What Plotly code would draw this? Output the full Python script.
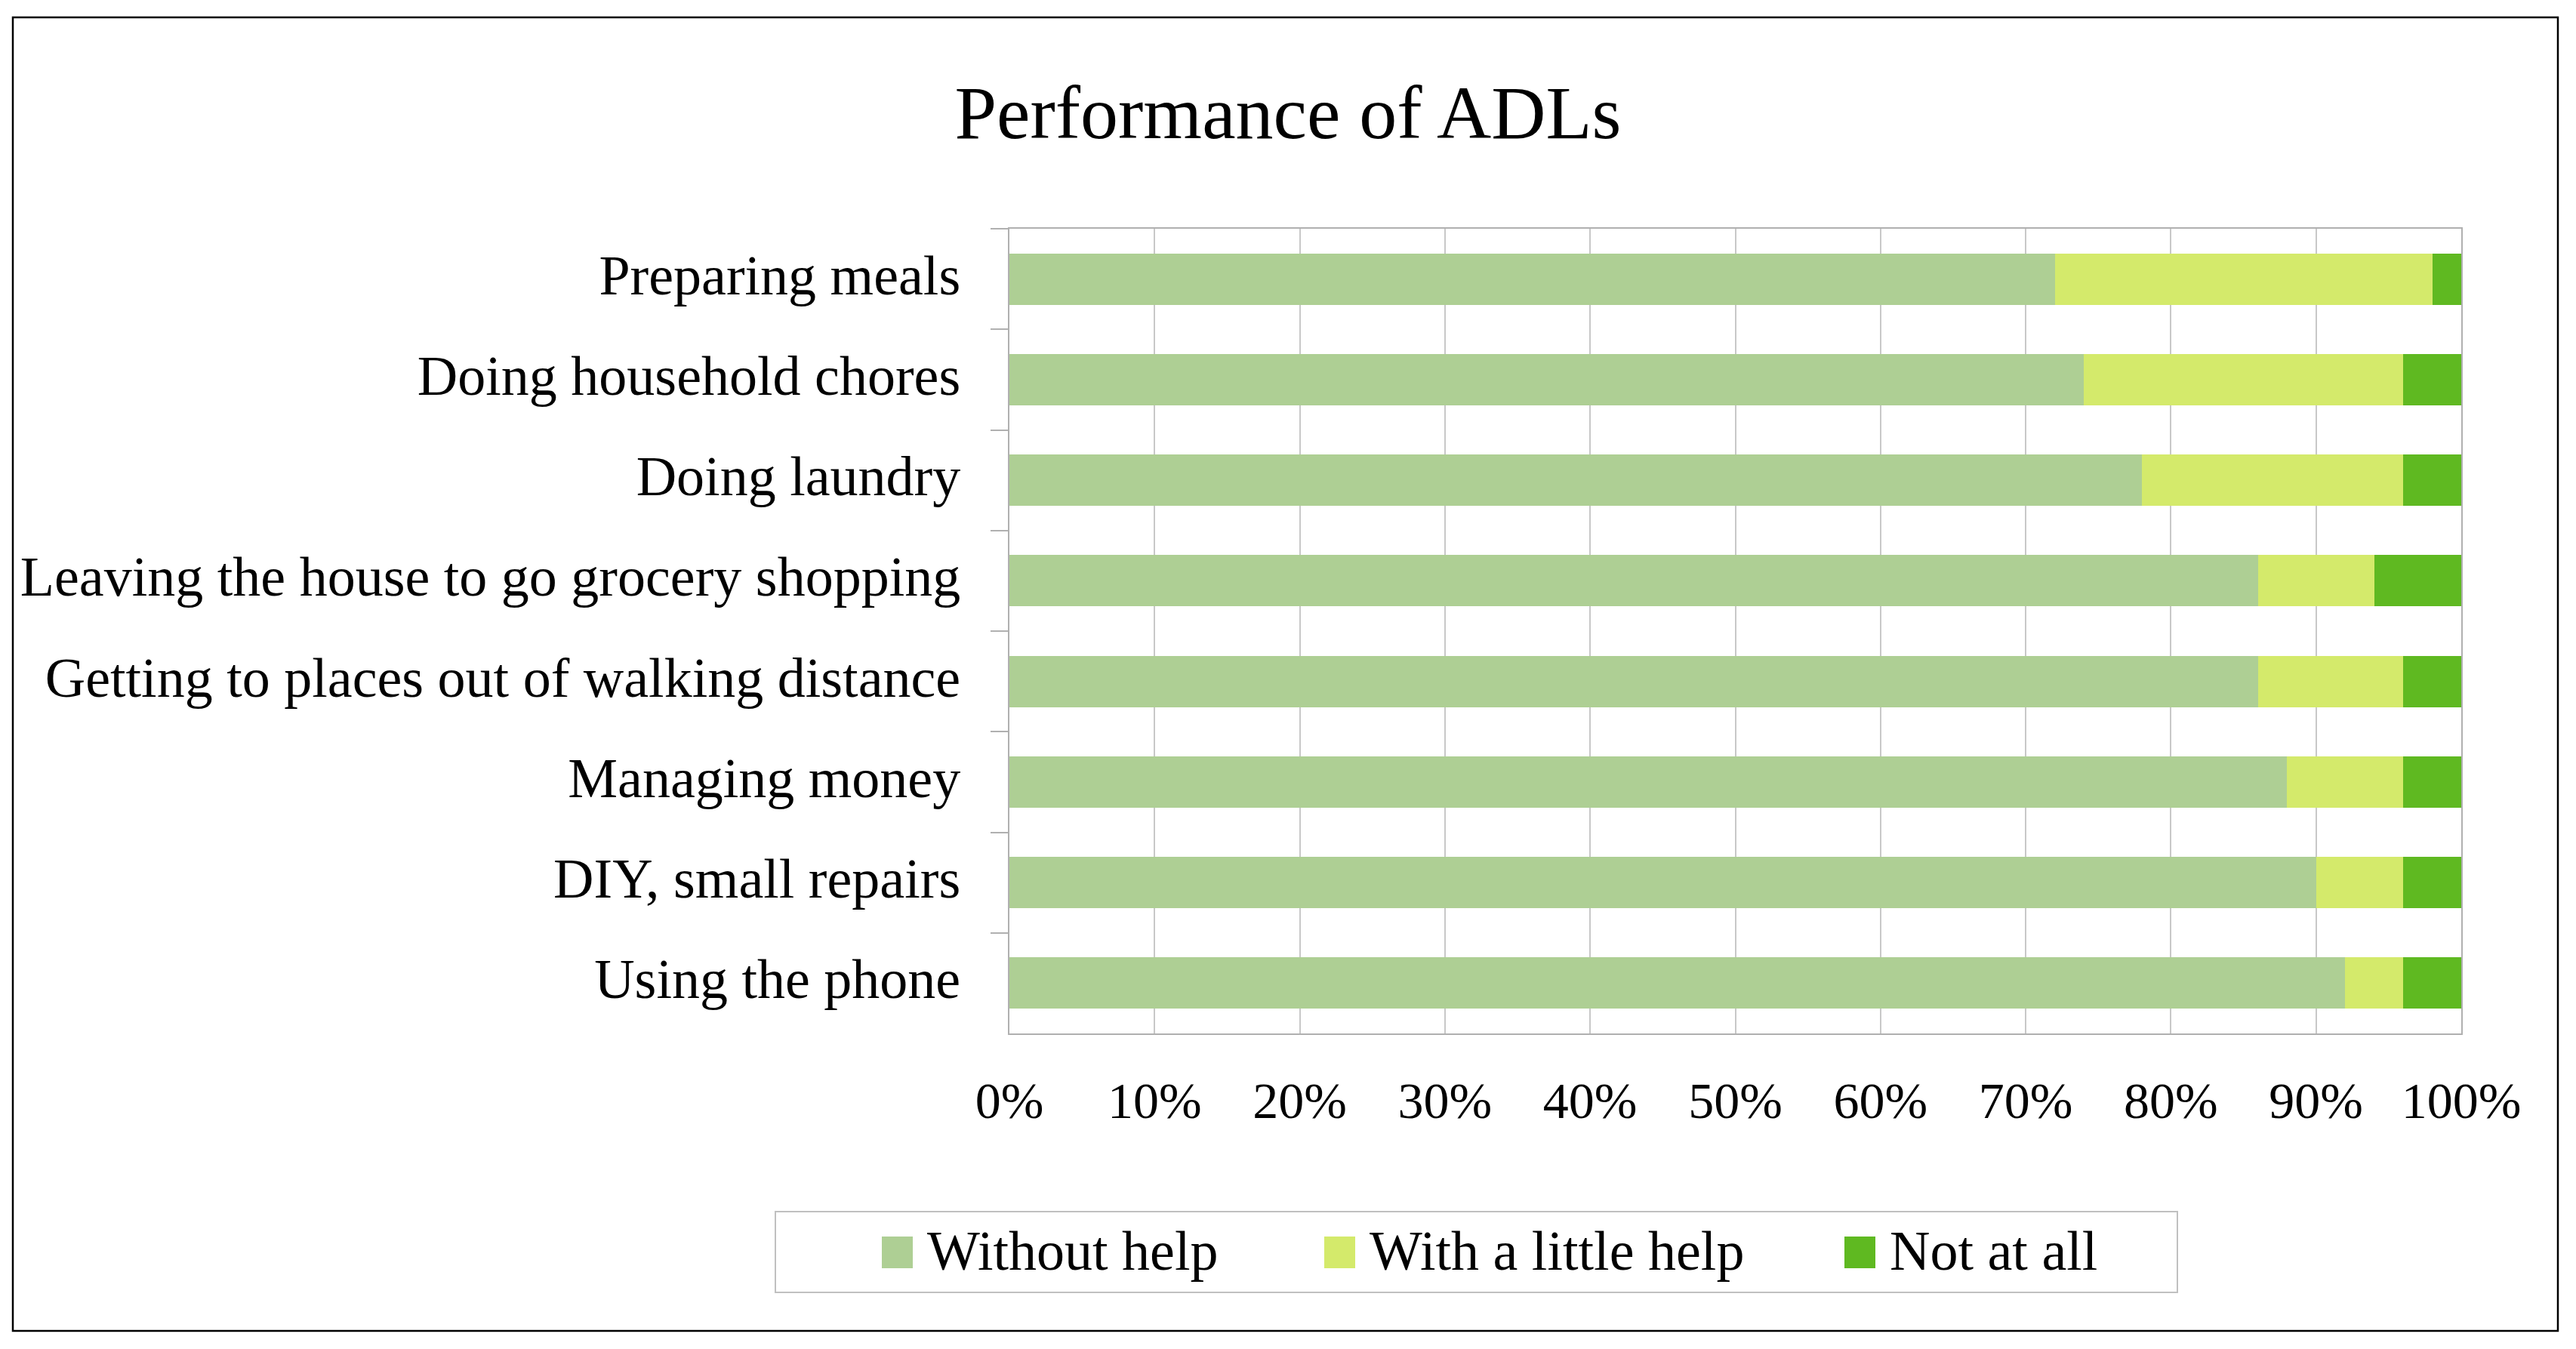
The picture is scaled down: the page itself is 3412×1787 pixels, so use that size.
import plotly.graph_objects as go

# ---- data ----
categories = [
    "Preparing meals",
    "Doing household chores",
    "Doing laundry",
    "Leaving the house to go grocery shopping",
    "Getting to places out of walking distance",
    "Managing money",
    "DIY, small repairs",
    "Using the phone",
]
without_help = [72, 74, 78, 86, 86, 88, 90, 92]
little_help = [26, 22, 18, 8, 10, 8, 6, 4]
not_at_all = [2, 4, 4, 6, 4, 4, 4, 4]
series_names = ["Without help", "With a little help", "Not at all"]
series_colors = ["#AECF94", "#D4EA6B", "#5FB921"]
x_ticks = [0, 10, 20, 30, 40, 50, 60, 70, 80, 90, 100]
x_tick_labels = [f"{v}%" for v in x_ticks]

FONT = "Palatino Linotype, Book Antiqua, Palatino, Liberation Serif, serif"

OFF = 8  # default page body margin
W, H = 3412 - 2 * OFF, 1787 - 2 * OFF
L, R, T, B = 1337 - OFF, 3260 - OFF, 303 - OFF, 1369 - OFF  # plot area in figure pixels


def px_x(p):
    return (p - OFF - L) / (R - L)


def px_y(p):
    return (B - (p - OFF)) / (B - T)


fig = go.Figure()
for name, vals, col in zip(series_names, [without_help, little_help, not_at_all], series_colors):
    fig.add_trace(go.Bar(
        y=categories, x=vals, name=name, orientation="h",
        marker=dict(color=col, line=dict(width=0)),
        showlegend=False,
    ))

fig.update_layout(
    width=W, height=H,
    margin=dict(l=L, r=W - R, t=T, b=H - B, pad=0),
    paper_bgcolor="white", plot_bgcolor="white",
    barmode="stack", bargap=0.49,
    font=dict(family=FONT, size=74, color="black"),
    title=dict(text="Performance of ADLs", x=0.5, xanchor="center",
               xref="container", y=1 - (148 - OFF) / H, yanchor="middle", yref="container",
               font=dict(family=FONT, size=100, color="black")),
    xaxis=dict(range=[0, 100], tickvals=x_ticks, ticktext=x_tick_labels,
               showgrid=True, gridcolor="#C8C8C8", gridwidth=2,
               zeroline=False, showline=True, linecolor="#B0B0B0", linewidth=2,
               mirror=True, ticks="", ticklabelstandoff=28,
               tickfont=dict(family=FONT, size=68, color="black")),
    yaxis=dict(autorange="reversed", categoryorder="array", categoryarray=categories,
               showline=True, linecolor="#B0B0B0", linewidth=2, mirror=True,
               ticks="outside", tickson="boundaries", ticklen=23, tickwidth=2,
               tickcolor="#B0B0B0", showgrid=False, zeroline=False,
               ticklabelstandoff=48, ticklabelshift=6,
               tickfont=dict(family=FONT, size=74, color="black")),
)

shapes = []
# outer chart border
shapes.append(dict(type="rect", xref="paper", yref="paper",
                   x0=px_x(17), x1=px_x(3388), y0=px_y(1763), y1=px_y(23),
                   line=dict(color="black", width=2.5), fillcolor="rgba(0,0,0,0)", layer="above"))
# legend box
shapes.append(dict(type="rect", xref="paper", yref="paper",
                   x0=px_x(1027), x1=px_x(2884), y0=px_y(1712), y1=px_y(1605),
                   line=dict(color="#C0C0C0", width=2), fillcolor="rgba(0,0,0,0)"))

annotations = []
legend_x = [1168, 1754, 2443]
for lx, name, col in zip(legend_x, series_names, series_colors):
    shapes.append(dict(type="rect", xref="paper", yref="paper",
                       x0=px_x(lx), x1=px_x(lx + 41), y0=px_y(1680), y1=px_y(1638),
                       line=dict(width=0), fillcolor=col))
    annotations.append(dict(text=name, xref="paper", yref="paper",
                            x=px_x(lx + 58), y=px_y(1657), xanchor="left", yanchor="middle",
                            showarrow=False, font=dict(family=FONT, size=74, color="black")))

fig.update_layout(shapes=shapes, annotations=annotations)

fig.write_html("out.html")
